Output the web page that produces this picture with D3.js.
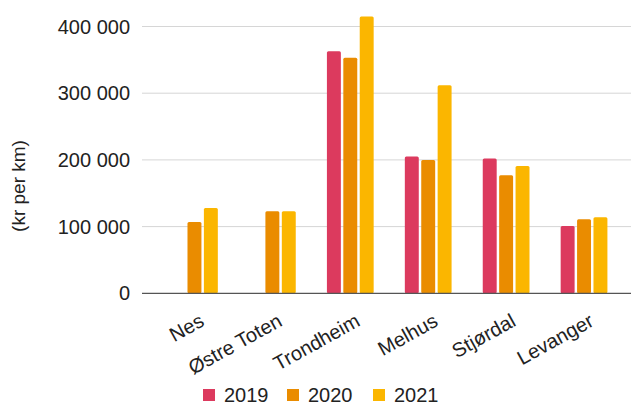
<!DOCTYPE html>
<html>
<head>
<meta charset="utf-8">
<script src="https://cdn.jsdelivr.net/npm/d3@7"></script>
<style>
  html, body { margin: 0; padding: 0; background: #fff; }
  svg { display: block; font-family: "Liberation Sans", Arial, sans-serif; }
</style>
</head>
<body>
<svg id="chart" width="632" height="405"></svg>
<script>
const categories = ["Nes", "Østre Toten", "Trondheim", "Melhus", "Stjørdal", "Levanger"];
const seriesNames = ["2019", "2020", "2021"];
const values2019 = [null, null, 363000, 205000, 202000, 101000];
const values2020 = [107000, 123000, 353000, 200000, 177000, 111000];
const values2021 = [128000, 123000, 415000, 312000, 191000, 114000];
const yTicks = [0, 100000, 200000, 300000, 400000];
const colors = ["#dc3a5e", "#ea8c00", "#fbb600"];
const yTitle = "(kr per km)";

const seriesValues = [values2019, values2020, values2021];

const svg = d3.select("#chart");
const locale = d3.formatLocale({ decimal: ",", thousands: " ", grouping: [3], currency: ["", ""] });
const fmt = locale.format(",");

const y = d3.scaleLinear().domain([0, 400000]).range([293.3, 26.5]);
const x0 = d3.scaleBand().domain(categories).range([155.5, 623]).paddingInner(0.4).paddingOuter(0.2);
const x1 = d3.scaleBand().domain(seriesNames).range([0, x0.bandwidth()]).paddingInner(0.15);
const color = d3.scaleOrdinal().domain(seriesNames).range(colors);

const gridLeft = 142, gridRight = 631;

// gridlines
svg.append("g").selectAll("line").data(yTicks.filter(d => d !== 0)).join("line")
  .attr("x1", gridLeft).attr("x2", gridRight)
  .attr("y1", d => y(d)).attr("y2", d => y(d))
  .attr("stroke", "#d6d6d6").attr("stroke-width", 1);

// y tick labels
svg.append("g").selectAll("text").data(yTicks).join("text")
  .attr("x", 130).attr("y", d => y(d))
  .attr("dy", "0.35em")
  .attr("text-anchor", "end")
  .attr("font-size", 20).attr("fill", "#222")
  .text(d => fmt(d));

// bars
const groups = svg.append("g").selectAll("g").data(categories).join("g")
  .attr("transform", d => `translate(${x0(d)},0)`);
groups.selectAll("rect")
  .data((c, i) => seriesNames.map((s, j) => ({ s, v: seriesValues[j][i] })).filter(d => d.v != null))
  .join("rect")
  .attr("x", d => x1(d.s))
  .attr("width", x1.bandwidth())
  .attr("y", d => y(d.v))
  .attr("height", d => y(0) - y(d.v))
  .attr("rx", 1.5)
  .attr("fill", d => color(d.s));

// baseline
svg.append("line")
  .attr("x1", gridLeft).attr("x2", gridRight)
  .attr("y1", y(0)).attr("y2", y(0))
  .attr("stroke", "#555").attr("stroke-width", 1.3);

// x labels
svg.append("g").selectAll("text").data(categories).join("text")
  .attr("transform", d => `translate(${x0(d) + x0.bandwidth() / 2 + 11},325) rotate(-29)`)
  .attr("text-anchor", "end")
  .attr("font-size", 20).attr("fill", "#222")
  .text(d => d);

// y title
svg.append("text")
  .attr("transform", "translate(25,186) rotate(-90)")
  .attr("text-anchor", "middle")
  .attr("font-size", 19).attr("fill", "#222")
  .text(yTitle);

// legend
const legendX = [203, 287, 373];
const lg = svg.append("g").selectAll("g").data(seriesNames).join("g")
  .attr("transform", (d, i) => `translate(${legendX[i]},389)`);
lg.append("rect").attr("width", 12).attr("height", 12).attr("fill", d => color(d));
lg.append("text").attr("x", 21).attr("y", 12.5)
  .attr("font-size", 20).attr("fill", "#222").text(d => d);
</script>
</body>
</html>
